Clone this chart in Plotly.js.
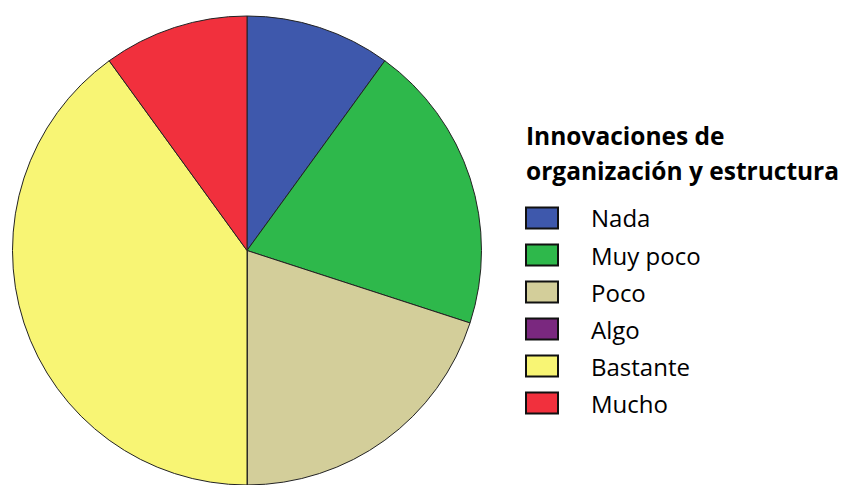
<!DOCTYPE html>
<html>
<head>
<meta charset="utf-8">
<script src="https://cdn.plot.ly/plotly-3.0.1.min.js"></script>
<style>html,body{margin:0;padding:0;background:#fff;}#chart{width:846px;height:485px;}</style>
</head>
<body>
<div id="chart"></div>
<script>
const legendTitleLines = ["Innovaciones de", "organización y estructura"];
const categories = ["Nada", "Muy poco", "Poco", "Algo", "Bastante", "Mucho"];
const values = [1, 2, 2, 0, 4, 1];
const colors = ["#3E58AC", "#2EB84B", "#D3CE9A", "#7A287F", "#F8F574", "#F1303D"];

const W = 846, H = 485;
const px = x => x / W;
const py = y => 1 - y / H;

const shapes = [];
const annotations = [];
legendTitleLines.forEach((t, i) => {
  annotations.push({
    xref: "paper", yref: "paper", x: px(524), y: py(135 + i * 35), xanchor: "left", yanchor: "middle",
    text: "<b>" + t + "</b>", align: "left", showarrow: false,
    font: {family: "Open Sans, sans-serif", size: 24.5, color: "#000"}
  });
});
categories.forEach((c, i) => {
  const cy = 218 + i * 37;
  shapes.push({
    type: "rect", xref: "paper", yref: "paper",
    x0: px(526), x1: px(558), y0: py(cy - 10.5), y1: py(cy + 10.5),
    fillcolor: colors[i], line: {color: "#111", width: 2}
  });
  annotations.push({
    xref: "paper", yref: "paper", x: px(589), y: py(cy), xanchor: "left", yanchor: "middle",
    text: c, showarrow: false,
    font: {family: "Open Sans, sans-serif", size: 24, color: "#000"}
  });
});

const data = [{
  type: "pie",
  labels: categories,
  values: values,
  sort: false,
  direction: "clockwise",
  rotation: 0,
  textinfo: "none",
  hoverinfo: "label+value+percent",
  marker: {colors: colors, line: {color: "#222", width: 1}},
  domain: {x: [px(12.5), px(481.5)], y: [0, 469 / H]},
  showlegend: false
}];

const layout = {
  width: W, height: H,
  margin: {l: 0, r: 0, t: 0, b: 0},
  paper_bgcolor: "#fff",
  showlegend: false,
  shapes: shapes,
  annotations: annotations
};
Plotly.newPlot("chart", data, layout, {displayModeBar: false, staticPlot: true});
</script>
</body>
</html>
